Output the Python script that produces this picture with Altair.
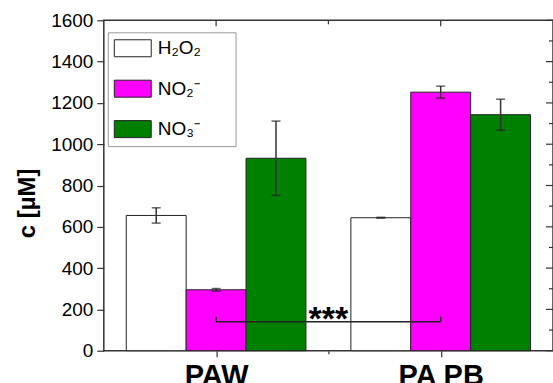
import altair as alt
import pandas as pd

# ---- data ----
groups = ["PAW", "PA PB"]
series = ["H2O2", "NO2", "NO3"]
series_labels = ["H₂O₂", "NO₂⁻", "NO₃⁻"]
values_h2o2 = [655, 644]
values_no2 = [295, 1252]
values_no3 = [932, 1143]
err_h2o2 = [37, 2]
err_no2 = [6, 29]
err_no3 = [180, 75]
colors = ["#FFFFFF", "#FF00FF", "#008000"]

y_major = list(range(0, 1601, 200))
y_minor = list(range(100, 1600, 200))
x_major = [1, 2]
x_minor = [1.5]

sig_pair = [1, 2]
sig_y = 140
sig_tip = 165
sig_text_y = 102
sig_label = "***"

FONT = "Liberation Sans"
W, H = 450, 331
bw = 0.8 / 3

vals = {"H2O2": values_h2o2, "NO2": values_no2, "NO3": values_no3}
errs = {"H2O2": err_h2o2, "NO2": err_no2, "NO3": err_no3}
rows = []
for gi, g in enumerate(groups):
    for si, s in enumerate(series):
        c = gi + 1 + (si - 1) * bw
        v = vals[s][gi]
        e = errs[s][gi]
        rows.append(dict(group=g, series=s, x0=c - bw / 2, x1=c + bw / 2,
                         xc=c, v=v, base=0, lo=v - e, hi=v + e))
df = pd.DataFrame(rows)

xs = alt.Scale(domain=[0.5, 2.5], nice=False, zero=False)
ys = alt.Scale(domain=[0, 1600], nice=False)

x_label_expr = (f"datum.value == 1 ? '{groups[0]}' : "
                f"datum.value == 2 ? '{groups[1]}' : ''")
x_axis = alt.Axis(
    title=None, values=x_major + x_minor, labelExpr=x_label_expr,
    grid=False, domain=False, labelFont=FONT, labelFontSize=29,
    labelFontWeight="bold", labelColor="black", labelPadding=5,
    tickColor="#333", tickWidth=1.2,
    tickSize={"condition": {"test": "datum.value % 1 == 0", "value": 6}, "value": 3},
)
y_axis = alt.Axis(
    title="c [µM]", values=y_major + y_minor, format="d",
    labelExpr="datum.value % 200 == 0 ? datum.label : ''",
    grid=False, domain=False, labelFont=FONT, labelFontSize=19,
    labelColor="black", labelPadding=4,
    tickColor="#333", tickWidth=1.2,
    tickSize={"condition": {"test": "datum.value % 200 == 0", "value": 7}, "value": 4},
    titleFont=FONT, titleFontSize=24, titleFontWeight="bold", titleColor="black",
    titleAngle=-90, titleX=-76, titleY=183, titleAlign="center", titleBaseline="middle",
)

pad = "\u2800" * 2
label_map = " : ".join(
    f"datum.value == '{s}' ? '{l}{pad}'" for s, l in zip(series, series_labels)
) + " : datum.label"

legend = alt.Legend(
    title=None, orient="none", legendX=4, legendY=12, direction="vertical",
    symbolType="M-2,-0.92H2V0.92H-2Z", symbolSize=342, symbolOffset=9,
    symbolStrokeColor="#222", symbolStrokeWidth=1, symbolOpacity=1,
    labelFont=FONT, labelFontSize=19, labelColor="black", labelOffset=15,
    rowPadding=18.5, padding=6, strokeColor="#999", fillColor="white",
    labelExpr=label_map,
)

bars = alt.Chart(df).mark_bar(stroke="#222", strokeWidth=1, opacity=1).encode(
    x=alt.X("x0:Q", scale=xs, axis=x_axis),
    x2="x1",
    y=alt.Y("v:Q", scale=ys, axis=y_axis),
    y2="base:Q",
    fill=alt.Fill("series:N", scale=alt.Scale(domain=series, range=colors), legend=legend),
)

err_rule = alt.Chart(df).mark_rule(color="#333", strokeWidth=1.5).encode(
    x="xc:Q", y="lo:Q", y2="hi:Q",
)
err_caps = alt.Chart(df).transform_fold(["lo", "hi"], as_=["k", "e"]).mark_tick(
    color="#222", orient="horizontal", size=9, thickness=1.5
).encode(x="xc:Q", y="e:Q")

sig_df = pd.DataFrame({"x": sig_pair, "y": [sig_y] * 2, "tip": [sig_tip] * 2})
sig_h = alt.Chart(pd.DataFrame({"a": [sig_pair[0]], "b": [sig_pair[1]], "y": [sig_y]})).mark_rule(
    color="#222", strokeWidth=1.5).encode(x="a:Q", x2="b:Q", y="y:Q")
sig_v = alt.Chart(sig_df).mark_rule(color="#222", strokeWidth=1.5).encode(
    x="x:Q", y="y:Q", y2="tip:Q")
sig_t = alt.Chart(pd.DataFrame({"x": [sum(sig_pair) / 2], "y": [sig_text_y], "t": [sig_label]})).mark_text(
    font=FONT, fontSize=34, fontWeight="bold", color="black", baseline="alphabetic", align="center"
).encode(x="x:Q", y="y:Q", text="t:N")

# mirrored inward ticks on right and top
rt_major = alt.Chart(pd.DataFrame({"t": y_major})).mark_rule(color="#333", strokeWidth=1.2).encode(
    y="t:Q", x=alt.value(W - 7), x2=alt.value(W))
rt_minor = alt.Chart(pd.DataFrame({"t": y_minor})).mark_rule(color="#333", strokeWidth=1.2).encode(
    y="t:Q", x=alt.value(W - 4), x2=alt.value(W))
tp_major = alt.Chart(pd.DataFrame({"t": x_major})).mark_rule(color="#333", strokeWidth=1.2).encode(
    x="t:Q", y=alt.value(0), y2=alt.value(6))
tp_minor = alt.Chart(pd.DataFrame({"t": x_minor})).mark_rule(color="#333", strokeWidth=1.2).encode(
    x="t:Q", y=alt.value(0), y2=alt.value(4))

chart = alt.layer(
    bars, err_rule, err_caps, sig_h, sig_v, sig_t, rt_major, rt_minor, tp_major, tp_minor
).properties(
    width=W, height=H,
    autosize=alt.AutoSizeParams(type="none"),
    padding={"left": 104, "top": 20, "right": 0, "bottom": 32},
    background="white",
).configure_view(
    stroke="#333", strokeWidth=1.5
)

chart.save("out.html", embed_options={"renderer": "svg", "actions": False})
